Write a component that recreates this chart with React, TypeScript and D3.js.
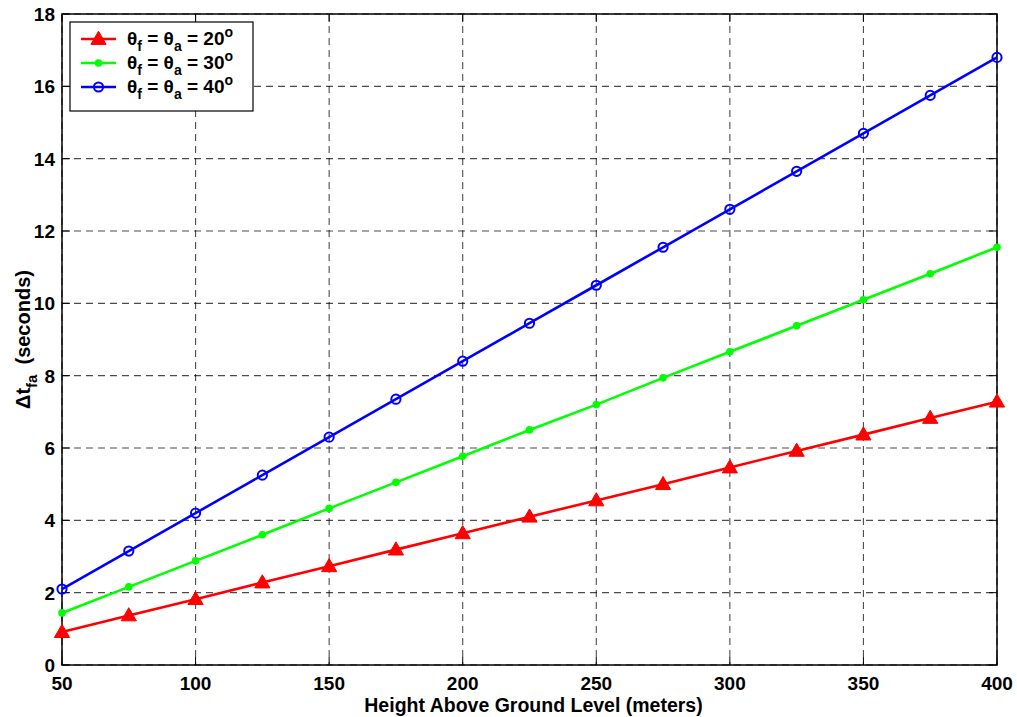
import React, { useRef, useEffect } from "react";
import * as d3 from "d3";

const heights = [50, 75, 100, 125, 150, 175, 200, 225, 250, 275, 300, 325, 350, 375, 400];
const dt20 = [0.91, 1.37, 1.82, 2.28, 2.73, 3.19, 3.64, 4.1, 4.55, 5.0, 5.46, 5.92, 6.37, 6.83, 7.28];
const dt30 = [1.44, 2.16, 2.88, 3.6, 4.33, 5.05, 5.77, 6.5, 7.2, 7.94, 8.66, 9.38, 10.1, 10.82, 11.55];
const dt40 = [2.1, 3.15, 4.2, 5.25, 6.3, 7.35, 8.4, 9.45, 10.5, 11.55, 12.6, 13.65, 14.7, 15.75, 16.8];
const legendAngles = ["20", "30", "40"];
const xTicks = [50, 100, 150, 200, 250, 300, 350, 400];
const yTicks = [0, 2, 4, 6, 8, 10, 12, 14, 16, 18];

const App = () => {
  const ref = useRef<SVGSVGElement>(null);

  useEffect(() => {
    const width = 1017;
    const height = 717;
    const left = 62, right = 997, top = 14, bottom = 665;
    const font = "'Liberation Sans', Arial, sans-serif";

    const svg = d3.select(ref.current).attr("width", width).attr("height", height);
    svg.selectAll("*").remove();
    svg.append("rect").attr("width", width).attr("height", height).attr("fill", "white");

    const x = d3.scaleLinear().domain([50, 400]).range([left, right]);
    const y = d3.scaleLinear().domain([0, 18]).range([bottom, top]);

    // grid
    const grid = svg.append("g");
    xTicks.forEach((t) => {
      grid.append("line")
        .attr("x1", x(t)).attr("x2", x(t)).attr("y1", top).attr("y2", bottom)
        .attr("stroke", "#000").attr("stroke-opacity", 0.7)
        .attr("stroke-dasharray", "7,5").attr("stroke-width", 1.1);
    });
    yTicks.forEach((t) => {
      grid.append("line")
        .attr("x1", left).attr("x2", right).attr("y1", y(t)).attr("y2", y(t))
        .attr("stroke", "#000").attr("stroke-opacity", 0.7)
        .attr("stroke-dasharray", "7,5").attr("stroke-width", 1.1);
    });

    // frame
    svg.append("rect")
      .attr("x", left).attr("y", top).attr("width", right - left).attr("height", bottom - top)
      .attr("fill", "none").attr("stroke", "#000").attr("stroke-width", 1.5);

    // inner ticks
    xTicks.forEach((t) => {
      svg.append("line").attr("x1", x(t)).attr("x2", x(t)).attr("y1", bottom).attr("y2", bottom - 8).attr("stroke", "#000");
      svg.append("line").attr("x1", x(t)).attr("x2", x(t)).attr("y1", top).attr("y2", top + 8).attr("stroke", "#000");
    });
    yTicks.forEach((t) => {
      svg.append("line").attr("x1", left).attr("x2", left + 8).attr("y1", y(t)).attr("y2", y(t)).attr("stroke", "#000");
      svg.append("line").attr("x1", right).attr("x2", right - 8).attr("y1", y(t)).attr("y2", y(t)).attr("stroke", "#000");
    });

    // tick labels
    svg.selectAll(".xt").data(xTicks).enter().append("text")
      .attr("x", (d) => x(d)).attr("y", 690)
      .attr("text-anchor", "middle")
      .style("font-family", font).style("font-size", "19px").style("font-weight", "bold")
      .text((d) => d);
    svg.selectAll(".yt").data(yTicks).enter().append("text")
      .attr("x", left - 7).attr("y", (d) => y(d) + 7)
      .attr("text-anchor", "end")
      .style("font-family", font).style("font-size", "19px").style("font-weight", "bold")
      .text((d) => d);

    // axis labels
    svg.append("text")
      .attr("x", (left + right) / 2 + 4).attr("y", 712)
      .attr("text-anchor", "middle")
      .style("font-family", font).style("font-size", "19.5px").style("font-weight", "bold")
      .text("Height Above Ground Level (meters)");

    const yl = svg.append("text")
      .attr("transform", `translate(30, ${(top + bottom) / 2}) rotate(-90)`)
      .attr("text-anchor", "middle")
      .style("font-family", font).style("font-size", "20px").style("font-weight", "bold");
    yl.append("tspan").text("Δt");
    yl.append("tspan").attr("dy", 7).style("font-size", "15px").text("fa");
    yl.append("tspan").attr("dy", -7).attr("dx", 10).text("(seconds)");

    const series = [
      { values: dt20, color: "#ff0000", marker: "tri" },
      { values: dt30, color: "#00ff00", marker: "dot" },
      { values: dt40, color: "#0000ff", marker: "ring" },
    ];

    const line = d3.line<number>()
      .x((d, i) => x(heights[i]))
      .y((d) => y(d));

    const triangle = d3.symbol().type(d3.symbolTriangle).size(100);

    const drawMarker = (g: any, marker: string, color: string, cx: number, cy: number) => {
      if (marker === "tri") {
        g.append("path").attr("d", triangle()).attr("transform", `translate(${cx},${cy + 1})`)
          .attr("fill", color).attr("stroke", color).attr("stroke-width", 1);
      } else if (marker === "dot") {
        g.append("circle").attr("cx", cx).attr("cy", cy).attr("r", 3.8).attr("fill", color);
      } else {
        g.append("circle").attr("cx", cx).attr("cy", cy).attr("r", 4.6)
          .attr("fill", "none").attr("stroke", color).attr("stroke-width", 2);
      }
    };

    series.forEach((s) => {
      const g = svg.append("g");
      g.append("path").datum(s.values).attr("d", line)
        .attr("fill", "none").attr("stroke", s.color).attr("stroke-width", 2.6);
      s.values.forEach((v, i) => drawMarker(g, s.marker, s.color, x(heights[i]), y(v)));
    });

    // legend
    const lg = svg.append("g");
    lg.append("rect").attr("x", 70).attr("y", 22).attr("width", 183).attr("height", 89)
      .attr("fill", "white").attr("stroke", "#000").attr("stroke-width", 1.2);
    series.forEach((s, i) => {
      const ly = 39 + i * 24;
      lg.append("line").attr("x1", 81).attr("x2", 116).attr("y1", ly).attr("y2", ly)
        .attr("stroke", s.color).attr("stroke-width", 2.6);
      drawMarker(lg, s.marker, s.color, 98.5, ly);
      const t = lg.append("text").attr("x", 127).attr("y", ly + 6)
        .style("font-family", font).style("font-size", "19px").style("font-weight", "bold");
      t.append("tspan").text("θ");
      t.append("tspan").attr("dy", 6).style("font-size", "14px").text("f");
      t.append("tspan").attr("dy", -6).text(" = θ");
      t.append("tspan").attr("dy", 6).style("font-size", "14px").text("a");
      t.append("tspan").attr("dy", -6).text(" = " + legendAngles[i]);
      t.append("tspan").attr("dy", -8).style("font-size", "14px").text("o");
    });
  }, []);

  return <svg ref={ref} style={{ display: "block", position: "absolute", left: 0, top: 0 }}></svg>;
};

export default App;
